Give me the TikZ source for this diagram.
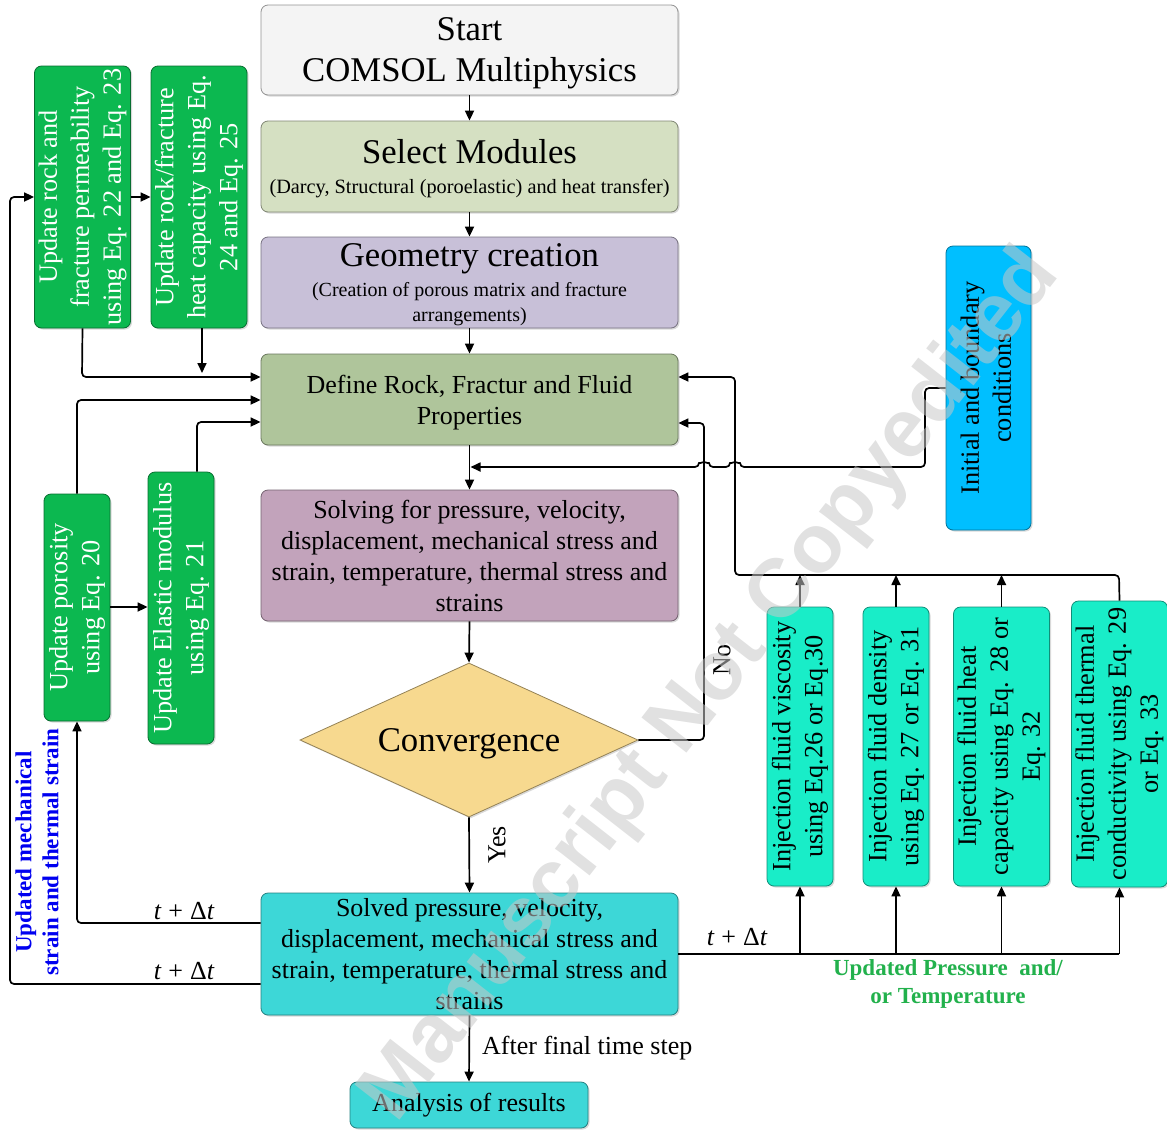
\documentclass[tikz,border=0pt]{standalone}
\usepackage{fontspec}
\setmainfont{Liberation Serif}
\setsansfont{Liberation Sans}
\usepackage{graphicx}
\usetikzlibrary{shapes.geometric,arrows.meta,shadows}
\definecolor{cStart}{HTML}{F4F4F4}
\definecolor{cSel}{HTML}{D5E0C2}
\definecolor{cGeo}{HTML}{C8C0D8}
\definecolor{cDef}{HTML}{AFC59B}
\definecolor{cSol}{HTML}{C2A3BB}
\definecolor{cConv}{HTML}{F7D98F}
\definecolor{cTeal}{HTML}{3DD7D7}
\definecolor{cGreen}{HTML}{0CB850}
\definecolor{cIbc}{HTML}{00BFFF}
\definecolor{cInj}{HTML}{19EDC8}
\definecolor{cLblG}{HTML}{22B14C}
\definecolor{cLblB}{HTML}{0000F0}
\definecolor{cWm}{HTML}{C8C8C8}
\newcommand{\vtext}[1]{\rotatebox{90}{\begin{tabular}{@{}c@{}}#1\end{tabular}}}
\newcommand{\tdt}{{\itshape t}\;+\;Δ{\itshape t}}
\begin{document}
\begin{tikzpicture}[x=1pt,y=-1pt,
  box/.style={rounded corners=7pt, inner sep=0pt, align=center,
    font=\fontsize{26}{31}\selectfont, line width=0.8pt,
    drop shadow={shadow xshift=1.5pt, shadow yshift=-1.5pt, opacity=0.3}},
  vbox/.style={box, font=\fontsize{26.3}{32}\selectfont},
  arr/.style={-{Triangle[length=10pt,width=9pt]}, line width=1.7pt, rounded corners=4pt},
  ln/.style={line width=1.7pt, rounded corners=4pt},
  lbl/.style={font=\fontsize{26}{31}\selectfont, inner sep=1pt}]
\useasboundingbox (0,0) rectangle (1167,1130);

% main column
\node[box, fill=cStart, draw=cStart!60!black, minimum width=417pt, minimum height=90pt,
  font=\fontsize{34.7}{41}\selectfont, text depth=0pt] (start) at (469.5,50) {Start\\COMSOL Multiphysics};
\node[box, fill=cSel, draw=cSel!60!black, minimum width=417pt, minimum height=91pt, text depth=0pt] (sel) at (469.5,166.5)
  {{\fontsize{34.7}{40}\selectfont Select Modules}\\[-1pt]{\fontsize{20.3}{24}\selectfont (Darcy, Structural (poroelastic) and heat transfer)}};
\node[box, fill=cGeo, draw=cGeo!60!black, minimum width=417pt, minimum height=91pt, text depth=0pt] (geo) at (469.5,282.5)
  {{\fontsize{34.7}{40}\selectfont Geometry creation}\\[-1pt]{\fontsize{20}{24}\selectfont (Creation of porous matrix and fracture}\\[-6pt]{\fontsize{20}{24}\selectfont arrangements)}};
\node[box, fill=cDef, draw=cDef!60!black, minimum width=417pt, minimum height=91pt, text depth=0pt] (def) at (469.5,399.5)
  {Define Rock, Fractur and Fluid\\Properties};
\node[box, fill=cSol, draw=cSol!60!black, minimum width=417pt, minimum height=131pt] (sol) at (469.5,555.5)
  {Solving for pressure, velocity,\\displacement, mechanical stress and\\strain, temperature, thermal stress and\\strains};
\node[diamond, aspect=2.2, minimum width=338pt, minimum height=154pt, inner sep=0pt,
  fill=cConv, draw=cConv!60!black, line width=0.8pt, text depth=0pt,
  drop shadow={shadow xshift=1.5pt, shadow yshift=-1.5pt, opacity=0.3},
  font=\fontsize{34.7}{40}\selectfont] (conv) at (469,740) {Convergence};
\node[box, fill=cTeal, draw=cTeal!60!black, minimum width=417pt, minimum height=122pt] (solved) at (469.5,954)
  {Solved pressure, velocity,\\displacement, mechanical stress and\\strain, temperature, thermal stress and\\strains};
\node[box, fill=cTeal, draw=cTeal!60!black, minimum width=238pt, minimum height=46pt] (anal) at (469,1105)
  {Analysis of results};

% green update boxes
\node[vbox, fill=cGreen, draw=cGreen!60!black, text=white, minimum width=93pt, minimum height=262pt] (perm) at (82.5,197)
  {\vtext{Update rock and\\fracture permeability\\using Eq. 22 and Eq. 23}};
\node[vbox, fill=cGreen, draw=cGreen!60!black, text=white, minimum width=94pt, minimum height=262pt] (heat) at (199,197)
  {\vtext{Update rock/fracture\\heat capacity using Eq.\\24 and Eq. 25}};
\node[vbox, fill=cGreen, draw=cGreen!60!black, text=white, minimum width=66pt, minimum height=227pt] (poro) at (77,607.5)
  {\vtext{Update porosity\\using Eq. 20}};
\node[vbox, fill=cGreen, draw=cGreen!60!black, text=white, minimum width=66pt, minimum height=272pt] (elas) at (181,608)
  {\vtext{Update Elastic modulus\\using Eq. 21}};

% initial & boundary
\node[vbox, fill=cIbc, draw=cIbc!60!black, minimum width=85pt, minimum height=284pt] (ibc) at (988.5,388)
  {\vtext{Initial and boundary\\conditions}};

% injection boxes
\node[vbox, fill=cInj, draw=cInj!60!black, minimum width=66pt, minimum height=279pt] (inj1) at (800,746.5)
  {\vtext{Injection fluid viscosity\\using Eq.26 or Eq.30}};
\node[vbox, fill=cInj, draw=cInj!60!black, minimum width=66pt, minimum height=279pt] (inj2) at (896,746.5)
  {\vtext{Injection fluid density\\using Eq. 27 or Eq. 31}};
\node[vbox, fill=cInj, draw=cInj!60!black, minimum width=93pt, minimum height=279pt] (inj3) at (1001.5,746.5)
  {\vtext{Injection fluid heat\\capacity using Eq. 28 or\\Eq. 32}};
\node[vbox, fill=cInj, draw=cInj!60!black, minimum width=93pt, minimum height=286pt] (inj4) at (1119.5,744)
  {\vtext{Injection fluid thermal\\conductivity using Eq. 29\\or Eq. 33}};

\coordinate (j1) at (470.5,467);

% main flow
\draw[arr] (start.south) -- (sel.north);
\draw[arr] (sel.south) -- (geo.north);
\draw[arr] (geo.south) -- (def.north);
\draw[arr] (def.south) -- (sol.north);
\draw[arr] (sol.south) -- (conv.north);
\draw[arr] (conv.south) -- (solved.north);
\draw[arr] (solved.south) -- (anal.north);
\node[lbl, rotate=90] (yes) at (497,845) {Yes};
\node[lbl, anchor=west] (aft) at (481,1048) {After final time step};

% No loop
\draw[arr] (conv.east) -- (704,740) -- (704,423) -- (def.east |- 0,423);
\node[lbl, rotate=90] (no) at (722,660) {No};

% initial conditions line with hops
\draw[arr] (ibc.west) -- (925,388) -- (925,467) -- (740,467)
  arc[start angle=0, end angle=-180, radius=5] -- (709,467)
  arc[start angle=0, end angle=-180, radius=5] -- (j1);

% injection feedback
\draw[arr] (inj4.north) -- (1119,575) -- (735,575) -- (735,377) -- (def.east |- 0,377);
\draw[arr] (inj1.north) -- (inj1.north |- 0,575);
\draw[arr] (inj2.north) -- (inj2.north |- 0,575);
\draw[arr] (inj3.north) -- (inj3.north |- 0,575);

% bottom distribution
\draw[ln] (solved.east) -- (1119,954);
\draw[arr] (inj1.south |- 0,954) -- (inj1.south);
\draw[arr] (inj2.south |- 0,954) -- (inj2.south);
\draw[arr] (inj3.south |- 0,954) -- (inj3.south);
\draw[arr] (inj4.south |- 0,954) -- (inj4.south);
\node[lbl] (dt3) at (737,937) {\tdt};
\node[font=\fontsize{23}{28}\selectfont\bfseries, text=cLblG, align=center] (upt) at (948,984)
  {Updated Pressure~ and/\\or Temperature};

% left loops
\draw[arr] (solved.west |- 0,923) -- (77,923) -- (poro.south);
\draw[arr] (solved.west |- 0,984) -- (10,984) -- (10,197) -- (perm.west);
\node[lbl] (dt1) at (184,911) {\tdt};
\node[lbl] (dt2) at (184,971) {\tdt};
\node[font=\fontsize{23}{27}\selectfont\bfseries, text=cLblB, align=center, rotate=90] (ums) at (37,852)
  {Updated mechanical\\strain and thermal strain};

\draw[arr] (perm.east) -- (heat.west);
\draw[arr] (perm.south) -- (82,377) -- (def.west |- 0,377);
\draw[arr] (heat.south -| 202,0) -- (202,373);
\draw[arr] (poro.north) -- (77,400) -- (def.west |- 0,400);
\draw[arr] (poro.east |- 0,607) -- (elas.west |- 0,607);
\draw[arr] (elas.north -| 197,0) -- (197,422) -- (def.west |- 0,422);

% watermark
\node[font=\fontsize{83}{83}\selectfont\sffamily\bfseries, text=cWm, opacity=0.55, rotate=52] (wm) at (712,686)
  {Manuscript Not Copyedited};
\end{tikzpicture}
\end{document}
